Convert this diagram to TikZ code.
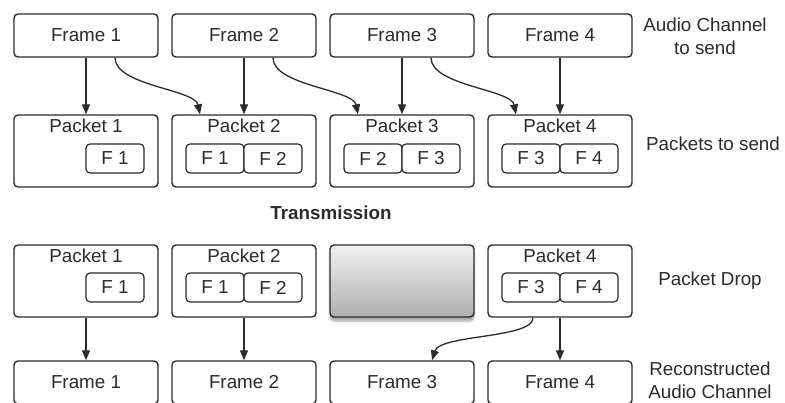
\documentclass[tikz,border=0pt]{standalone}
\usepackage{fontspec}
\setmainfont{Liberation Sans}
\usetikzlibrary{arrows.meta,shadows.blur}
\definecolor{ink}{HTML}{2B2B2B}
\begin{document}
\begin{tikzpicture}[x=1pt,y=-1pt,
  every node/.style={font=\fontsize{18.8}{23}\selectfont, text=ink},
  box/.style={draw=ink, line width=1.4pt, rounded corners=4pt, fill=white},
  framebox/.style={box, minimum width=144pt, minimum height=43pt, inner sep=0pt},
  packbox/.style={box, minimum width=144pt, minimum height=72pt, inner sep=0pt},
  fbox/.style={box, line width=1.2pt, minimum width=58pt, minimum height=29pt, inner sep=0pt},
  lbl/.style={align=center, inner sep=0pt},
  arr/.style={draw=ink, line width=1.3pt, -{Triangle[length=10pt,width=8pt]}}
]
\useasboundingbox (0,0) rectangle (785,402);
% top frames
\node[framebox] (f1) at (86,35.5) {Frame 1};
\node[framebox] (f2) at (244,35.5) {Frame 2};
\node[framebox] (f3) at (402,35.5) {Frame 3};
\node[framebox] (f4) at (560,35.5) {Frame 4};
% packets to send
\node[packbox] (p1) at (86,151) {};
\node[packbox] (p2) at (244,151) {};
\node[packbox] (p3) at (402,151) {};
\node[packbox] (p4) at (560,151) {};
\node[lbl] (p1t) at (86,126) {Packet 1};
\node[lbl] (p2t) at (244,126) {Packet 2};
\node[lbl] (p3t) at (402,126) {Packet 3};
\node[lbl] (p4t) at (560,126) {Packet 4};
\node[fbox] (p1b) at (115,158.5) {F 1};
\node[fbox] (p2a) at (215,158.5) {F 1};
\node[fbox] (p2b) at (273,158.5) {F 2};
\node[fbox] (p3a) at (373,158.5) {F 2};
\node[fbox] (p3b) at (431,158.5) {F 3};
\node[fbox] (p4a) at (531,158.5) {F 3};
\node[fbox] (p4b) at (589,158.5) {F 4};
% arrows top
\draw[arr] (f1.south) -- (p1.north);
\draw[arr] (f2.south) -- (p2.north);
\draw[arr] (f3.south) -- (p3.north);
\draw[arr] (f4.south) -- (p4.north);
\draw[arr] ([xshift=29pt]f1.south) .. controls +(0,28) and +(-5,-25) .. ([xshift=-44pt]p2.north);
\draw[arr] ([xshift=29pt]f2.south) .. controls +(0,28) and +(-5,-25) .. ([xshift=-44pt]p3.north);
\draw[arr] ([xshift=29pt]f3.south) .. controls +(0,28) and +(-5,-25) .. ([xshift=-44pt]p4.north);
% transmission
\node[lbl, font=\fontsize{18.8}{23}\selectfont\bfseries] (tx) at (331,213) {Transmission};
% received packets
\node[packbox] (q1) at (86,281) {};
\node[packbox] (q2) at (244,281) {};
\node[packbox, top color=gray!12, bottom color=gray!62, blur shadow={shadow xshift=0pt, shadow yshift=-4pt, shadow blur steps=6, shadow opacity=35}] (q3) at (402,281) {};
\node[packbox] (q4) at (560,281) {};
\node[lbl] (q1t) at (86,256) {Packet 1};
\node[lbl] (q2t) at (244,256) {Packet 2};
\node[lbl] (q4t) at (560,256) {Packet 4};
\node[fbox] (q1b) at (115,287.5) {F 1};
\node[fbox] (q2a) at (215,287.5) {F 1};
\node[fbox] (q2b) at (273,287.5) {F 2};
\node[fbox] (q4a) at (531,287.5) {F 3};
\node[fbox] (q4b) at (589,287.5) {F 4};
% reconstructed frames
\node[framebox] (g1) at (86,382.5) {Frame 1};
\node[framebox] (g2) at (244,382.5) {Frame 2};
\node[framebox] (g3) at (402,382.5) {Frame 3};
\node[framebox] (g4) at (560,382.5) {Frame 4};
\draw[arr] (q1.south) -- (g1.north);
\draw[arr] (q2.south) -- (g2.north);
\draw[arr] (q4.south) -- (g4.north);
\draw[arr] ([xshift=-27pt]q4.south) .. controls +(0,21) and +(8,-26) .. ([xshift=30pt]g3.north);
% side labels
\node[lbl] (s1) at (705,36) {Audio Channel\\to send};
\node[lbl] (s2) at (713,144) {Packets to send};
\node[lbl] (s3) at (710,281) {Packet Drop};
\node[lbl] (s4) at (710,380.5) {Reconstructed\\Audio Channel};
\end{tikzpicture}
\end{document}
